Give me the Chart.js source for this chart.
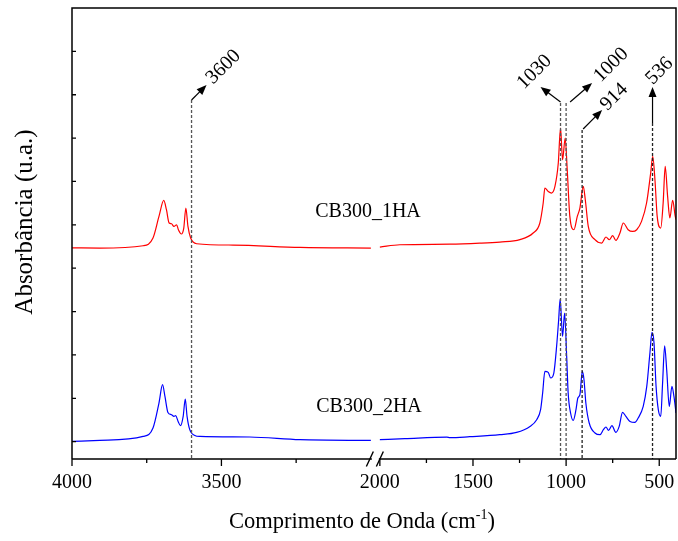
<!DOCTYPE html>
<html>
<head>
<meta charset="utf-8">
<script src="https://cdn.jsdelivr.net/npm/chart.js@4.4.1/dist/chart.umd.min.js"></script>
<style>
  html, body { margin: 0; padding: 0; background: #fff; }
</style>
</head>
<body>
<canvas id="ftir" width="678" height="541"></canvas>
<script>
// ---- data (wavenumber cm-1 / absorbance, arbitrary units) ----
const redWave = [4000, 3907, 3762, 3729, 3709, 3693, 3684, 3675, 3667, 3659, 3650, 3644, 3634, 3626, 3619, 3612, 3603, 3583, 3461, 3237, 3000,
  2500,
  2000, 1893, 1624, 1463, 1356, 1248, 1177, 1141, 1123, 1114, 1096, 1078, 1060, 1042, 1030, 1019, 1005, 994, 980, 958, 940, 926, 908, 897, 881,
  845, 809, 786, 768, 750, 733, 711, 693, 667, 643, 621, 595, 568, 546, 535, 523, 511, 492, 479, 468, 455, 443, 428, 414, 410];
const redAbs = [0.487, 0.4865, 0.4918, 0.5096, 0.5594, 0.5963, 0.5748, 0.5442, 0.5425, 0.5363, 0.5402, 0.5287, 0.5188, 0.5326, 0.5787, 0.5363, 0.5096, 0.4964, 0.4934, 0.4879, 0.4865,
  null,
  0.4888, 0.4941, 0.4953, 0.4976, 0.5003, 0.5058, 0.5211, 0.5442, 0.5903, 0.6249, 0.617, 0.6133, 0.6285, 0.6825, 0.7632, 0.6901, 0.7401, 0.6671, 0.5594, 0.5287, 0.5594, 0.5787, 0.6285, 0.5979, 0.5363,
  0.5056, 0.498, 0.5119, 0.5056, 0.5149, 0.504, 0.5211, 0.5442, 0.5287, 0.5248, 0.5287, 0.5479, 0.5903, 0.6594, 0.6977, 0.644, 0.5594, 0.5326, 0.5903, 0.6747, 0.6055, 0.5557, 0.5963, 0.5594, 0.5518];

const blueWave = [4000, 3907, 3762, 3729, 3709, 3697, 3689, 3679, 3667, 3659, 3653, 3645, 3637, 3628, 3621, 3615, 3606, 3589, 3572, 3405, 3237, 3000,
  2500,
  2000, 1866, 1640, 1624, 1517, 1356, 1266, 1194, 1158, 1137, 1126, 1114, 1096, 1083, 1066, 1051, 1040, 1032, 1019, 1008, 997, 989, 976, 962, 947, 937, 926, 913, 904, 894, 876,
  845, 818, 800, 786, 772, 754, 733, 715, 697, 679, 657, 631, 613, 586, 567, 550, 539, 528, 517, 505, 492, 482, 471, 460, 446, 432, 421, 410];
const blueAbs = [0.0406, 0.0429, 0.0521, 0.0715, 0.1291, 0.1713, 0.1443, 0.1074, 0.1021, 0.0982, 0.0998, 0.0867, 0.0768, 0.0982, 0.1383, 0.0982, 0.0676, 0.0544, 0.0521, 0.0507, 0.0445, 0.0429,
  null,
  0.0445, 0.0468, 0.0503, 0.0491, 0.0514, 0.056, 0.0613, 0.0752, 0.0906, 0.1137, 0.1522, 0.202, 0.1997, 0.1868, 0.1983, 0.2596, 0.3212, 0.3689, 0.2827, 0.3366, 0.2366, 0.1522, 0.1061, 0.089, 0.1137, 0.1407, 0.1483, 0.202, 0.1828, 0.1291, 0.083,
  0.0599, 0.056, 0.0676, 0.0738, 0.0659, 0.0768, 0.0613, 0.0752, 0.1074, 0.0982, 0.0867, 0.0844, 0.0945, 0.1213, 0.1674, 0.2444, 0.2919, 0.2675, 0.1674, 0.1137, 0.0982, 0.1752, 0.2612, 0.2059, 0.1213, 0.1674, 0.1443, 0.1061];

const seriesNames = ['CB300_1HA', 'CB300_2HA'];
const majorTicks = [4000, 3500, 2000, 1500, 1000, 500];
const minorTicks = [3750, 3250, 1750, 1250, 750];
const yTicks = [0.04, 0.14, 0.24, 0.34, 0.44, 0.54, 0.64, 0.74, 0.84, 0.94];
const markerWaves = [3600, 1030, 1000, 914, 536];
const markerLabels = ['3600', '1030', '1000', '914', '536'];

// x axis with a break between 3000 and 2000 cm-1
const LEFT_MAX = 4000, LEFT_MIN = 3000, RIGHT_MAX = 2000, RIGHT_MIN = 410;
const LEFT_FRAC = 0.4948, RIGHT_START = 0.5097;

class BrokenScale extends Chart.LinearScale {
  buildTicks() {
    return majorTicks.concat(minorTicks).map(v => ({ value: v }));
  }
  getPixelForValue(value) {
    const w = this.right - this.left;
    let f;
    if (value > 2500) f = (LEFT_MAX - value) / (LEFT_MAX - LEFT_MIN) * LEFT_FRAC;
    else f = RIGHT_START + (RIGHT_MAX - value) / (RIGHT_MAX - RIGHT_MIN) * (1 - RIGHT_START);
    return this.left + f * w;
  }
  getValueForPixel(pixel) {
    const f = (pixel - this.left) / (this.right - this.left);
    if (f <= LEFT_FRAC) return LEFT_MAX - f / LEFT_FRAC * (LEFT_MAX - LEFT_MIN);
    return RIGHT_MAX - (f - RIGHT_START) / (1 - RIGHT_START) * (RIGHT_MAX - RIGHT_MIN);
  }
}
BrokenScale.id = 'broken';
BrokenScale.defaults = Chart.LinearScale.defaults;
Chart.register(BrokenScale);

const SERIF = '"Liberation Serif", "Times New Roman", serif';

const toPoints = (xs, ys) => xs.map((x, i) => ({ x: x, y: ys[i] }));

// how each marker's arrow and label sit (offsets in px from the dashed line)
const markerStyle = [
  { top: 100, ax0: 0, ay0: 100, ax1: 15, ay1: 85, lx: 32, ly: 67, color: '#555' },
  { top: 103, ax0: 0, ay0: 102, ax1: -20, ay1: 87, lx: -26, ly: 72, color: '#555' },
  { top: 103, ax0: 4, ay0: 102, ax1: 26, ay1: 83, lx: 45, ly: 65, color: '#555' },
  { top: 130, ax0: 1, ay0: 129, ax1: 20, ay1: 110, lx: 32, ly: 97, color: '#222' },
  { top: 123, ax0: 0, ay0: 123, ax1: 0, ay1: 87, lx: 7, ly: 71, color: '#222' }
];

function drawArrow(ctx, x0, y0, x1, y1) {
  const ang = Math.atan2(y1 - y0, x1 - x0);
  const len = 10, half = 4;
  ctx.beginPath();
  ctx.moveTo(x0, y0);
  ctx.lineTo(x1 - Math.cos(ang) * len * 0.8, y1 - Math.sin(ang) * len * 0.8);
  ctx.stroke();
  ctx.beginPath();
  ctx.moveTo(x1, y1);
  ctx.lineTo(x1 - Math.cos(ang) * len + Math.sin(ang) * half, y1 - Math.sin(ang) * len - Math.cos(ang) * half);
  ctx.lineTo(x1 - Math.cos(ang) * len - Math.sin(ang) * half, y1 - Math.sin(ang) * len + Math.cos(ang) * half);
  ctx.closePath();
  ctx.fill();
}

const decor = {
  id: 'decor',
  afterDatasetsDraw(chart) {
    const { ctx, chartArea: a, scales } = chart;
    const x = scales.x, y = scales.y;
    ctx.save();

    // marker lines, arrows and rotated labels
    markerWaves.forEach((w, i) => {
      const s = markerStyle[i];
      const px = x.getPixelForValue(w);
      ctx.strokeStyle = s.color;
      ctx.lineWidth = 1.3;
      ctx.setLineDash([3, 2]);
      ctx.beginPath();
      ctx.moveTo(px, s.top);
      ctx.lineTo(px, a.bottom);
      ctx.stroke();
      ctx.setLineDash([]);
      ctx.strokeStyle = '#000';
      ctx.fillStyle = '#000';
      ctx.lineWidth = 1.2;
      drawArrow(ctx, px + s.ax0, s.ay0, px + s.ax1, s.ay1);
      ctx.save();
      ctx.translate(px + s.lx, s.ly);
      ctx.rotate(-Math.PI / 4);
      ctx.font = '20px ' + SERIF;
      ctx.textAlign = 'center';
      ctx.textBaseline = 'middle';
      ctx.fillText(markerLabels[i], 0, 0);
      ctx.restore();
    });

    // frame with the axis break
    const b1 = x.getPixelForValue(LEFT_MIN);
    const b2 = x.getPixelForValue(RIGHT_MAX);
    ctx.strokeStyle = '#000';
    ctx.lineWidth = 1.5;
    ctx.beginPath();
    ctx.moveTo(a.left, a.bottom);
    ctx.lineTo(a.left, a.top);
    ctx.lineTo(a.right, a.top);
    ctx.lineTo(a.right, a.bottom);
    ctx.moveTo(a.left, a.bottom);
    ctx.lineTo(b1 + 1, a.bottom);
    ctx.moveTo(b2 - 1, a.bottom);
    ctx.lineTo(a.right, a.bottom);
    ctx.stroke();
    ctx.lineWidth = 1.4;
    ctx.beginPath();
    [b1 - 1, b2].forEach(bx => {
      ctx.moveTo(bx - 3.5, a.bottom + 7.5);
      ctx.lineTo(bx + 3.5, a.bottom - 7.5);
    });
    ctx.stroke();

    // ticks
    ctx.lineWidth = 1.3;
    ctx.beginPath();
    majorTicks.forEach(v => {
      const px = x.getPixelForValue(v);
      ctx.moveTo(px, a.bottom);
      ctx.lineTo(px, a.bottom + 7);
    });
    minorTicks.forEach(v => {
      const px = x.getPixelForValue(v);
      ctx.moveTo(px, a.bottom);
      ctx.lineTo(px, a.bottom + 4);
    });
    yTicks.forEach(v => {
      const py = y.getPixelForValue(v);
      ctx.moveTo(a.left, py);
      ctx.lineTo(a.left + 4, py);
    });
    ctx.stroke();

    // sample labels
    ctx.fillStyle = '#000';
    ctx.font = '20px ' + SERIF;
    ctx.textAlign = 'center';
    ctx.textBaseline = 'middle';
    ctx.fillText(seriesNames[0], 368, 212);
    ctx.fillText(seriesNames[1], 369, 407);

    // axis titles
    ctx.font = '22.5px ' + SERIF;
    ctx.textBaseline = 'alphabetic';
    const main = 'Comprimento de Onda (cm';
    const sup = '-1';
    const close = ')';
    const wMain = ctx.measureText(main).width;
    const wClose = ctx.measureText(close).width;
    ctx.font = '14px ' + SERIF;
    const wSup = ctx.measureText(sup).width;
    const start = 362 - (wMain + wSup + wClose) / 2;
    ctx.textAlign = 'left';
    ctx.font = '22.5px ' + SERIF;
    ctx.fillText(main, start, 528);
    ctx.font = '14px ' + SERIF;
    ctx.fillText(sup, start + wMain, 519);
    ctx.font = '22.5px ' + SERIF;
    ctx.fillText(close, start + wMain + wSup, 528);

    ctx.save();
    ctx.translate(25, 222);
    ctx.rotate(-Math.PI / 2);
    ctx.font = '25px ' + SERIF;
    ctx.textAlign = 'center';
    ctx.textBaseline = 'middle';
    ctx.fillText('Absorbância (u.a.)', 0, 0);
    ctx.restore();

    ctx.restore();
  }
};

new Chart(document.getElementById('ftir').getContext('2d'), {
  type: 'line',
  data: {
    datasets: [
      {
        label: seriesNames[0],
        data: toPoints(redWave, redAbs),
        borderColor: '#ff0000',
        borderWidth: 1.2,
        pointRadius: 0,
        cubicInterpolationMode: 'monotone',
        spanGaps: false
      },
      {
        label: seriesNames[1],
        data: toPoints(blueWave, blueAbs),
        borderColor: '#0000ff',
        borderWidth: 1.2,
        pointRadius: 0,
        cubicInterpolationMode: 'monotone',
        spanGaps: false
      }
    ]
  },
  options: {
    responsive: false,
    animation: false,
    events: [],
    layout: { padding: { left: 72, top: 8, right: 2, bottom: 0 } },
    plugins: {
      legend: { display: false },
      tooltip: { enabled: false }
    },
    scales: {
      x: {
        type: 'broken',
        min: RIGHT_MIN,
        max: LEFT_MAX,
        grid: { display: false, drawTicks: false },
        border: { display: false },
        ticks: {
          autoSkip: false,
          maxRotation: 0,
          padding: 12,
          color: '#000',
          font: { family: SERIF, size: 20 },
          callback: v => majorTicks.includes(v) ? String(v) : ''
        },
        afterFit: s => { s.height = 82; }
      },
      y: {
        min: 0,
        max: 1.04,
        display: false
      }
    }
  },
  plugins: [decor]
});
</script>
</body>
</html>
